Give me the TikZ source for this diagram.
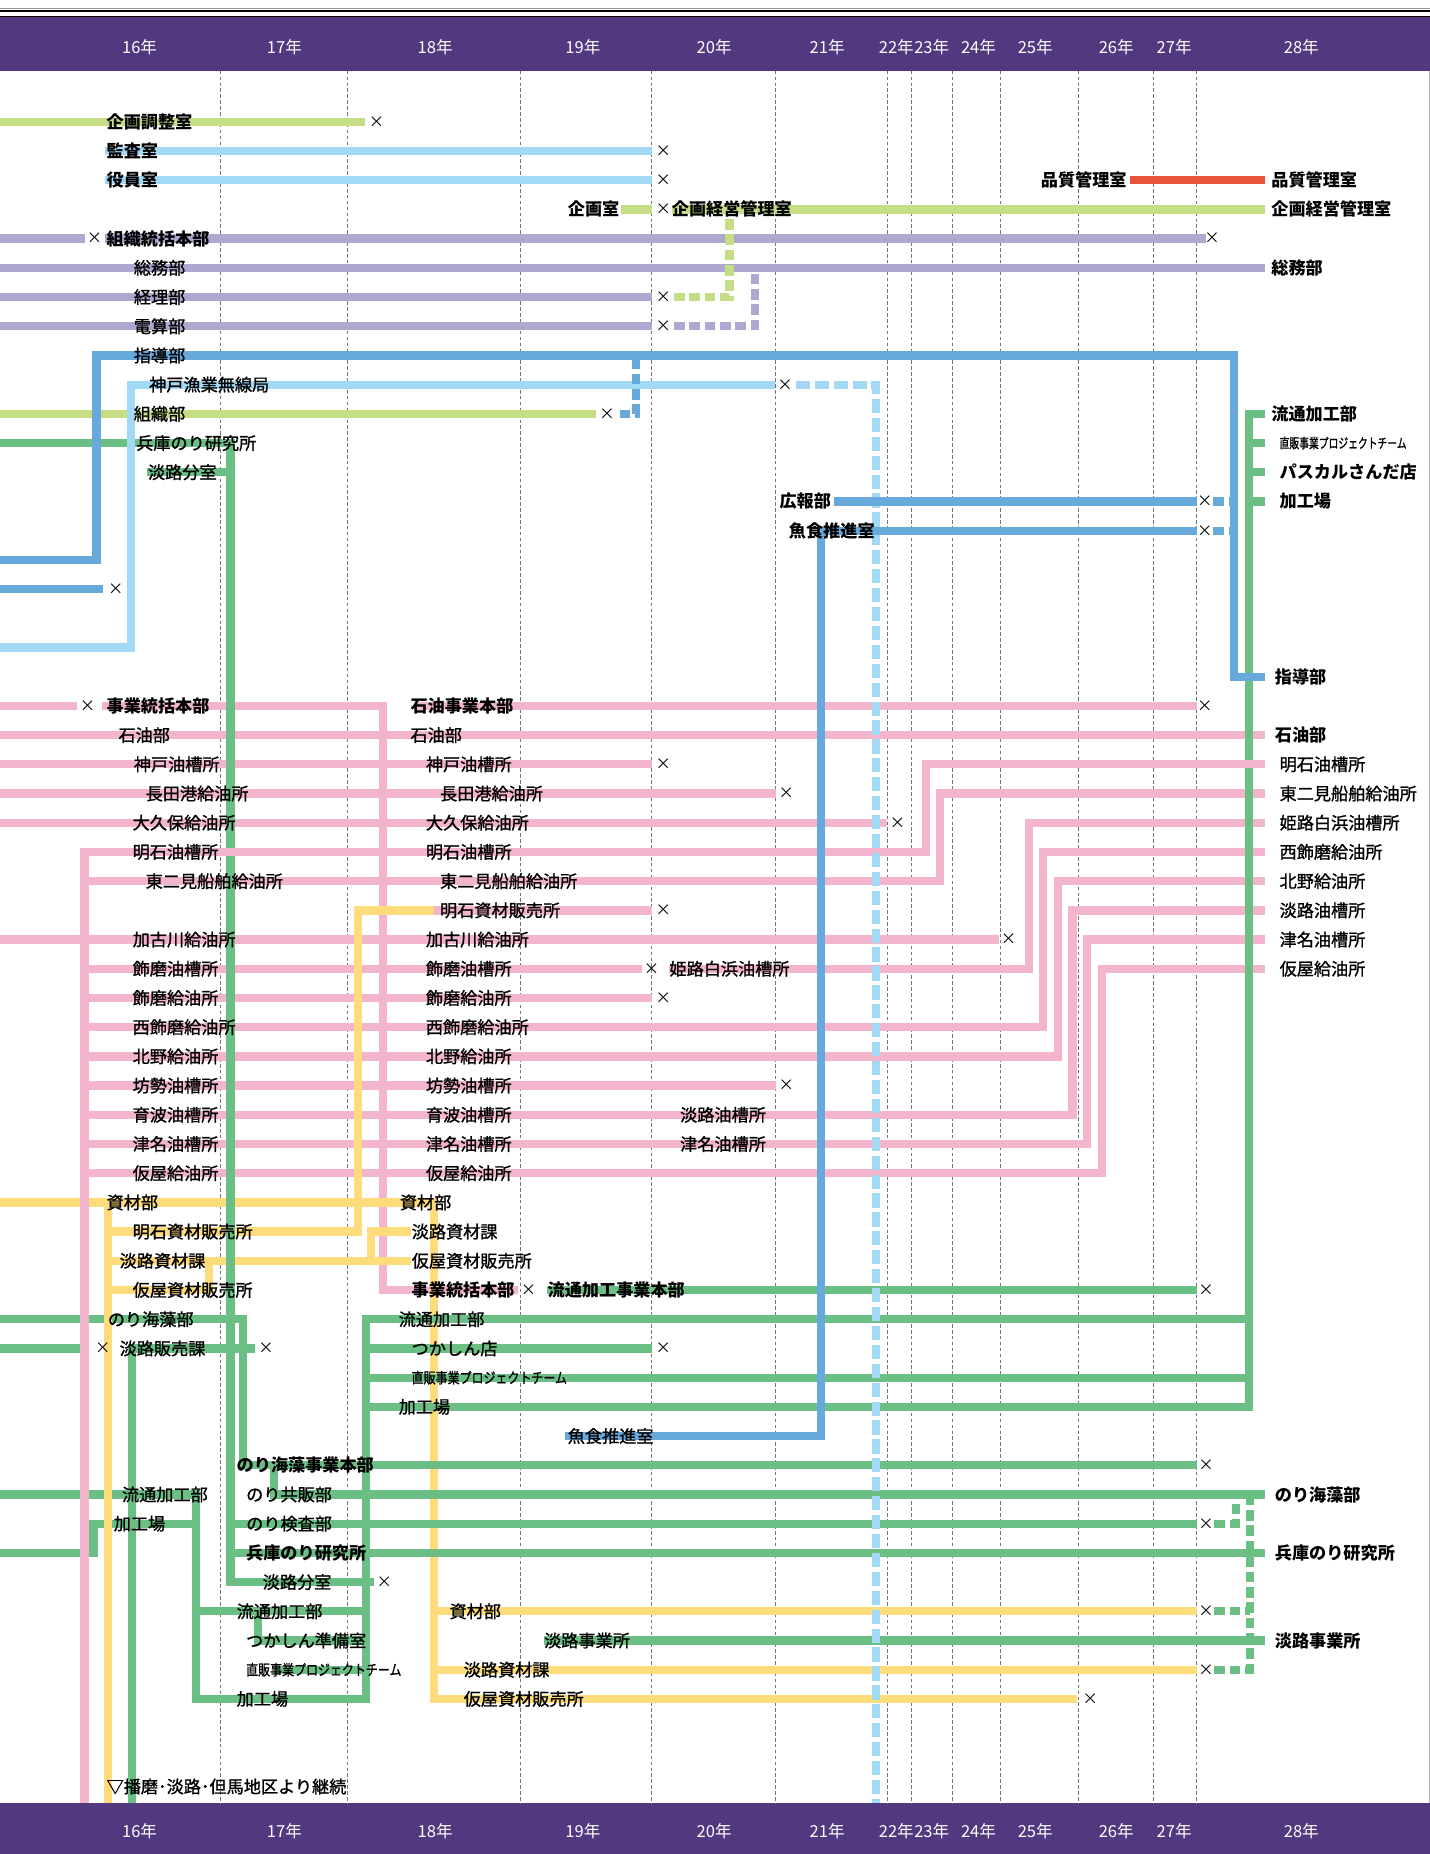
\documentclass[tikz,border=0pt]{standalone}
\usepackage{fontspec}
\usepackage{graphicx}
\usepackage{tikz}
\usetikzlibrary{positioning}
\newfontfamily\jpfont[FakeBold=1.2]{Noto Sans CJK JP}
\newfontfamily\jpbfont{Noto Sans CJK JP}
\definecolor{hdpurple}{HTML}{52387E}
\definecolor{cpink}{HTML}{F3B4CE}
\definecolor{cyellow}{HTML}{FEDC7B}
\definecolor{cgreen}{HTML}{6BBF85}
\definecolor{clime}{HTML}{C5DE85}
\definecolor{clav}{HTML}{B0A7D1}
\definecolor{csky}{HTML}{A2D9F5}
\definecolor{cblue}{HTML}{68A9DC}
\definecolor{cred}{HTML}{E8553A}
\newcommand\squeeze[3]{\scalebox{#1}[1]{\fontsize{#2}{#2}\selectfont #3}}
\tikzset{
  bar/.style     = {line width=7pt},
  dbar/.style    = {line width=7pt, dash pattern=on 9pt off 4pt},
  lbl/.style     = {anchor=west, inner sep=0pt,
                    font=\jpfont\fontsize{14.5}{15}\selectfont},
  lblb/.style    = {lbl, font=\jpbfont\bfseries\fontsize{14.5}{15}\selectfont},
  xmark/.style   = {inner sep=0pt, font=\jpbfont\fontsize{13}{13}\selectfont},
  yearlbl/.style = {white, inner sep=0pt, font=\jpbfont\fontsize{14}{14}\selectfont},
  gridln/.style  = {black!55, line width=0.5pt, dash pattern=on 3pt off 2pt}
}
\begin{document}
\begin{tikzpicture}[x=1pt, y=-24.7pt]
\useasboundingbox (0,-4.17) rectangle (1209,59.31);
% Bands and rules
\fill[hdpurple] (0,-3.579) rectangle (1209,-1.749);
\fill[hdpurple] (0,57.57) rectangle (1209,59.31);
\draw[black!40, line width=0.6pt] (0,-3.887) -- (1209,-3.887);
\draw[black, line width=1.4pt] (0,-3.794) -- (1209,-3.794);
\draw[black, line width=0.8pt] (0,-3.603) -- (1209,-3.603);
\foreach \gx in {186,294,440,551,656,750,771,805,846,912,975,1012}
  \draw[gridln] (\gx,-1.749) -- (\gx,57.57);
\draw[black!30, line width=0.6pt] (1208.5,-1.749) -- (1208.5,57.57);
% Years
\foreach \yx/\yl [count=\i] in {118/16, 240.5/17, 368/18, 493/19, 604/20,
    699.5/21, 758/22, 788/23, 827.5/24, 875.5/25, 944/26, 993/27, 1100.5/28} {
  \node[yearlbl] (yt\i) at (\yx,-2.55) {\yl 年};
  \node[yearlbl] (yb\i) at (\yx,58.54) {\yl 年};
}
% Pink
\draw[bar, cpink] (0,20) -- (65,20);
\draw[bar, cpink] (86,20) -- (324,20) -- (324,40) -- (438,40);
\draw[bar, cpink] (350,20) -- (1012,20);
\draw[bar, cpink] (0,21) -- (1070,21);
\foreach \r/\ex in {22/551, 23/656, 24/750, 28/845}
  \draw[bar, cpink] (0,\r) -- (\ex,\r);
\draw[bar, cpink] (367,27) -- (551,27);
\draw[bar, cpink] (566,29) -- (870,29) -- (870,24) -- (1070,24);
\foreach \r/\ex in {29/543, 30/551, 33/656}
  \draw[bar, cpink] (71.5,\r) -- (\ex,\r);
\foreach \r/\cx/\tr in {26/795/23, 31/882/25, 32/895/26, 34/907/27,
                       35/919/28, 36/932/29}
  \draw[bar, cpink] (71.5,\r) -- (\cx,\r) -- (\cx,\tr) -- (1070,\tr);
% Yellow
\draw[bar, cyellow] (0,37) -- (367,37) -- (367,54) -- (911,54);
\draw[bar, cyellow] (367,51) -- (1012,51);
\draw[bar, cyellow] (367,53) -- (1012,53);
\draw[bar, cyellow] (91.5,38) -- (303,38) -- (303,27) -- (367,27);
\draw[bar, cyellow] (91.5,39) -- (348,39);
\draw[bar, cyellow] (314,39) -- (314,38) -- (348,38);
\draw[bar, cyellow] (91.5,40) -- (177,40) -- (177,39);
% Lavender
\draw[bar, clav] (0,4) -- (72,4);
\draw[bar, clav] (89,4) -- (1019.5,4);
\draw[bar, clav] (0,5) -- (1070,5);
\draw[bar, clav] (0,6) -- (551,6);
\draw[bar, clav] (0,7) -- (551,7);
\draw[dbar, clav] (570,7) -- (638.5,7) -- (638.5,5);
% Lime
\draw[bar, clime] (0,0) -- (309,0);
\draw[bar, clime] (525,3) -- (551,3);
\draw[bar, clime] (568,3) -- (1070,3);
\draw[bar, clime] (0,10) -- (504,10);
\draw[dbar, clime] (570,6) -- (617,6) -- (617,3);
% Red
\draw[bar, cred] (956,2) -- (1070,2);
% Green
\draw[bar, cgreen] (0,11) -- (195,11) -- (195,50) -- (316,50);
\draw[bar, cgreen] (124,12) -- (195,12);
\draw[bar, cgreen] (1070,10) -- (1056,10) -- (1056,44) -- (309.5,44);
\foreach \r in {11,12,13}
  \draw[bar, cgreen] (1056,\r) -- (1070,\r);
\draw[bar, cgreen] (1056,41) -- (309.5,41) -- (309.5,54) -- (165.5,54)
  -- (165.5,47) -- (0,47);
\draw[bar, cgreen] (309.5,42) -- (551,42);
\draw[bar, cgreen] (309.5,43) -- (1056,43);
\draw[bar, cgreen] (463,40) -- (1012,40);
\draw[bar, cgreen] (0,41) -- (205.5,41) -- (205.5,46) -- (1012,46);
\draw[bar, cgreen] (0,42) -- (75,42);
\draw[bar, cgreen] (216,42) -- (111.5,42) -- (111.5,57.57);
\draw[bar, cgreen] (0,49) -- (79,49) -- (79,48) -- (165.5,48);
\draw[bar, cgreen] (165.5,51) -- (309.5,51);
\draw[bar, cgreen] (218,51) -- (218,52) -- (309.5,52);
\draw[bar, cgreen] (232,53) -- (309.5,53);
\draw[bar, cgreen] (232,46) -- (232,47) -- (1070,47);
\draw[bar, cgreen] (195,48) -- (1012,48);
\draw[bar, cgreen] (195,49) -- (1070,49);
\draw[bar, cgreen] (460,52) -- (1070,52);
\draw[dbar, cgreen] (1027,48) -- (1045,48) -- (1045,47);
\draw[dbar, cgreen] (1027,51) -- (1057,51);
\draw[dbar, cgreen] (1027,53) -- (1057,53) -- (1057,47);
% Left trunks on top
\draw[bar, cpink] (71.5,57.57) -- (71.5,25) -- (783,25) -- (783,22) -- (1070,22);
\draw[bar, cyellow] (91.5,37) -- (91.5,57.57);
% Light blue
\draw[bar, csky] (89,1) -- (551,1);
\draw[bar, csky] (89,2) -- (551,2);
\draw[bar, csky] (0,18) -- (110.5,18) -- (110.5,9) -- (655,9);
\draw[bar, csky, dash pattern=on 12pt off 4pt] (673,9) -- (741,9) -- (741,57.57);
% Blue
\draw[bar, cblue] (0,15) -- (81.5,15) -- (81.5,8) -- (1043.5,8) -- (1043.5,19)
  -- (1070,19);
\draw[bar, cblue] (0,16) -- (87,16);
\draw[dbar, cblue] (524,10) -- (538,10) -- (538,8);
\draw[bar, cblue] (705.5,13) -- (1012,13);
\draw[dbar, cblue] (1026,13) -- (1043.5,13);
\draw[bar, cblue] (478,45) -- (694.5,45) -- (694.5,14) -- (1012,14);
\draw[dbar, cblue] (1026,14) -- (1043.5,14);
% Heavy labels
\foreach \lx/\r/\txt [count=\i] in {90/0/企画調整室, 90/1/監査室, 90/2/役員室,
    1075/2/品質管理室, 568/3/企画経営管理室, 1075/3/企画経営管理室,
    90/4/組織統括本部, 1075/5/総務部, 1075/10/流通加工部,
    1082/12/パスカルさんだ店, 1082/13/加工場, 667/14/魚食推進室,
    1078/19/指導部, 90/20/事業統括本部, 347/20/石油事業本部, 1078/21/石油部,
    348/40/事業統括本部, 463/40/流通加工事業本部, 200/46/のり海藻事業本部,
    1078/47/のり海藻部, 208/49/兵庫のり研究所, 1078/49/兵庫のり研究所,
    1078/52/淡路事業所}
  \node[lblb] (h\i) at (\lx,\r) {\txt};
\node[lblb, anchor=east] (hq) at (953,2) {品質管理室};
\node[lblb, anchor=east] (kk) at (524,3) {企画室};
\node[lblb, anchor=east] (kh) at (703,13) {広報部};
% Labels
\foreach \lx/\r/\txt [count=\i] in {113/5/総務部, 113/6/経理部, 113/7/電算部,
    113/8/指導部, 126/9/神戸漁業無線局, 113/10/組織部, 115/11/兵庫のり研究所,
    125/12/淡路分室, 100/21/石油部, 347/21/石油部,
    113/22/神戸油槽所, 360/22/神戸油槽所, 1082/22/明石油槽所,
    123/23/長田港給油所, 372/23/長田港給油所, 1082/23/東二見船舶給油所,
    112/24/大久保給油所, 360/24/大久保給油所, 1082/24/姫路白浜油槽所,
    112/25/明石油槽所, 360/25/明石油槽所, 1082/25/西飾磨給油所,
    123/26/東二見船舶給油所, 372/26/東二見船舶給油所, 1082/26/北野給油所,
    372/27/明石資材販売所, 1082/27/淡路油槽所,
    112/28/加古川給油所, 360/28/加古川給油所, 1082/28/津名油槽所,
    112/29/飾磨油槽所, 360/29/飾磨油槽所, 566/29/姫路白浜油槽所, 1082/29/仮屋給油所,
    112/30/飾磨給油所, 360/30/飾磨給油所, 112/31/西飾磨給油所, 360/31/西飾磨給油所,
    112/32/北野給油所, 360/32/北野給油所, 112/33/坊勢油槽所, 360/33/坊勢油槽所,
    112/34/育波油槽所, 360/34/育波油槽所, 575/34/淡路油槽所,
    112/35/津名油槽所, 360/35/津名油槽所, 575/35/津名油槽所,
    112/36/仮屋給油所, 360/36/仮屋給油所,
    90/37/資材部, 338/37/資材部, 112/38/明石資材販売所, 348/38/淡路資材課,
    101/39/淡路資材課, 348/39/仮屋資材販売所, 112/40/仮屋資材販売所,
    91/41/のり海藻部, 337/41/流通加工部, 101/42/淡路販売課, 348/42/つかしん店,
    337/44/加工場, 480/45/魚食推進室, 103/47/流通加工部, 208/47/のり共販部,
    96/48/加工場, 208/48/のり検査部, 222/50/淡路分室, 200/51/流通加工部,
    380/51/資材部, 208/52/つかしん準備室, 460/52/淡路事業所,
    392/53/淡路資材課, 200/54/加工場, 392/54/仮屋資材販売所,
    90/57/▽播磨･淡路･但馬地区より継続}
  \node[lbl] (m\i) at (\lx,\r) {\txt};
\node[lbl] (pt1) at (1082,11) {\squeeze{0.72}{11.5}{直販事業プロジェクトチーム}};
\node[lbl] (pt2) at (348,43) {\squeeze{0.81}{12.5}{直販事業プロジェクトチーム}};
\node[lbl] (pt3) at (208,53) {\squeeze{0.81}{12.5}{直販事業プロジェクトチーム}};
% Closures
\foreach \cx/\r [count=\i] in {318.5/0, 561/1, 561/2, 561/3, 80/4, 1025/4,
    561/6, 561/7, 664/9, 513.5/10, 1019/13, 1019/14, 98/16, 74/20, 1019/20,
    561/22, 665/23, 759/24, 561/27, 853/28, 551/29, 561/30, 665/33, 447/40,
    1020/40, 87/42, 225/42, 561/42, 1020/46, 1020/48, 325/50, 1020/51,
    1020/53, 922/54}
  \node[xmark] (x\i) at (\cx,\r) {×};
\end{tikzpicture}
\end{document}
